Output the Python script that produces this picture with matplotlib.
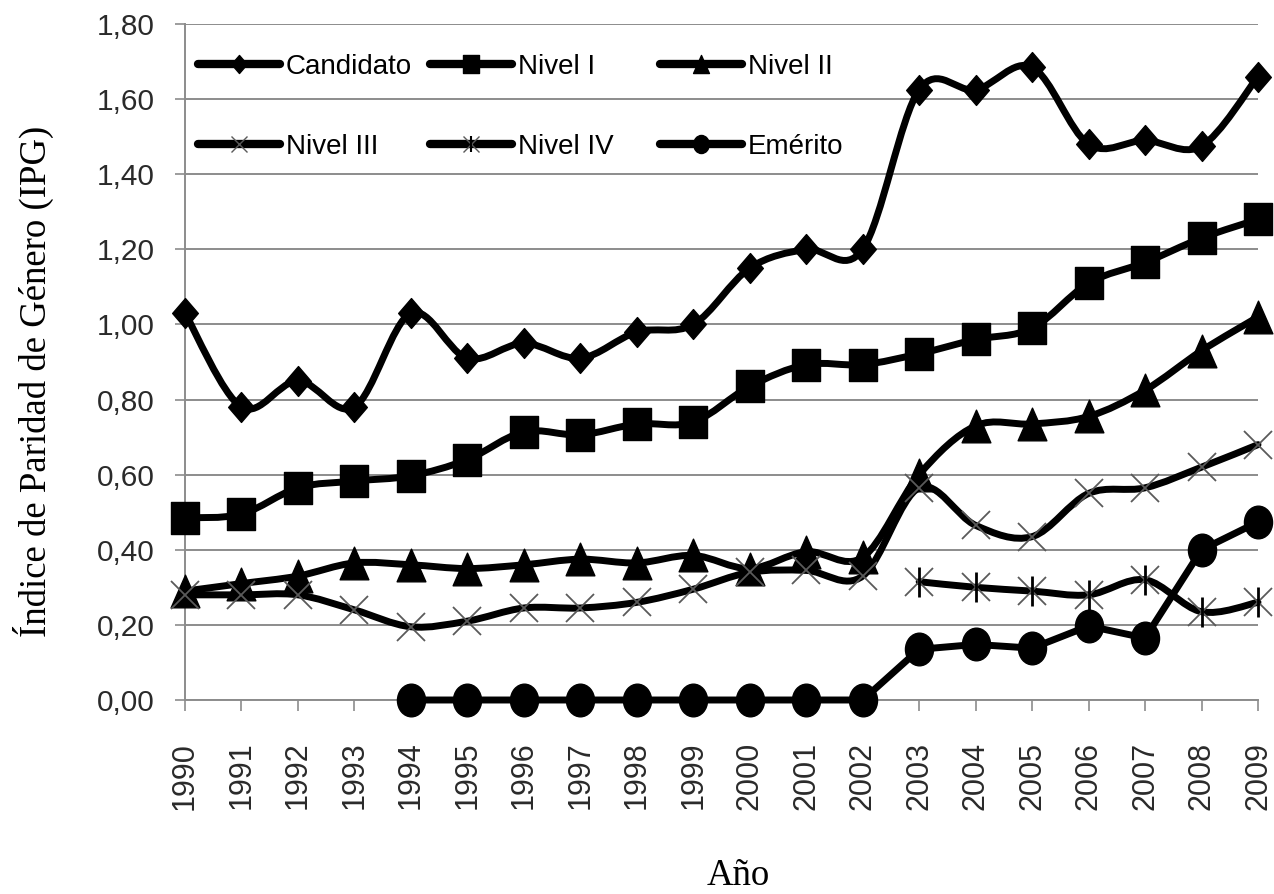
import numpy as np
import matplotlib
matplotlib.use("Agg")
import matplotlib.pyplot as plt
from matplotlib.path import Path
from matplotlib.patches import PathPatch
from matplotlib.lines import Line2D
from matplotlib.legend import Legend
from matplotlib.legend_handler import HandlerTuple

# ---------------- data ----------------
years = list(range(1990, 2010))
candidato = [1.03, 0.78, 0.85, 0.78, 1.03, 0.91, 0.95, 0.91, 0.98, 1.00,
             1.15, 1.20, 1.20, 1.625, 1.625, 1.685, 1.48, 1.49, 1.475, 1.66]
nivel_1 = [0.485, 0.495, 0.565, 0.583, 0.597, 0.64, 0.714, 0.706, 0.735, 0.74,
           0.835, 0.893, 0.893, 0.922, 0.96, 0.99, 1.11, 1.165, 1.23, 1.28]
nivel_2 = [0.29, 0.31, 0.33, 0.365, 0.36, 0.35, 0.36, 0.375, 0.365, 0.385,
           0.35, 0.395, 0.38, 0.60, 0.73, 0.735, 0.755, 0.825, 0.93, 1.02]
nivel_3 = [0.28, 0.28, 0.28, 0.24, 0.195, 0.21, 0.245, 0.245, 0.26, 0.295,
           0.34, 0.345, 0.33, 0.565, 0.465, 0.435, 0.55, 0.565, 0.62, 0.68]
nivel_4 = [None] * 13 + [0.315, 0.30, 0.29, 0.28, 0.32, 0.235, 0.26]
emerito = [None] * 4 + [0.0] * 9 + [0.135, 0.148, 0.138, 0.197, 0.165, 0.40, 0.474]

labels = ["Candidato", "Nivel I", "Nivel II", "Nivel III", "Nivel IV", "Emérito"]
yticks = [0.0, 0.2, 0.4, 0.6, 0.8, 1.0, 1.2, 1.4, 1.6, 1.8]

# ---------------- style ----------------
W, H = 1274, 894
fig = plt.figure(figsize=(W / 100, H / 100), dpi=100)
L, R, T, B = 185, 1258, 24, 700
ax = fig.add_axes([L / W, 1 - B / H, (R - L) / W, (B - T) / H])
ax.set_xlim(1990, 2009)
ax.set_ylim(0, 1.8)

GRID = "#8c8c8c"
for s in ["top", "right"]:
    ax.spines[s].set_visible(False)
for s in ["left", "bottom"]:
    ax.spines[s].set_color(GRID)
    ax.spines[s].set_linewidth(1.4)
ax.yaxis.grid(True, color=GRID, linewidth=1.4)
ax.set_axisbelow(True)

ax.set_yticks(yticks)
ax.set_yticklabels([f"{v:.2f}".replace(".", ",") for v in yticks])
ax.set_xticks(years)
ax.set_xticklabels([str(y) for y in years], rotation=90, va="top", ha="center")
ax.tick_params(axis="y", length=7, width=1.2, color=GRID, pad=15,
               labelsize=21.5, labelcolor="#2a2a2a")
ax.tick_params(axis="x", length=8, width=1.2, color=GRID, pad=22,
               labelsize=22, labelcolor="#2a2a2a")
for t in ax.get_xticklabels() + ax.get_yticklabels():
    t.set_fontfamily("Liberation Sans")

LW = 5.0


def shape(verts):
    verts = list(verts) + [verts[0]]
    codes = [Path.MOVETO] + [Path.LINETO] * (len(verts) - 2) + [Path.CLOSEPOLY]
    return Path(verts, codes)


diamond = shape([(0, 0.5), (0.43, 0), (0, -0.5), (-0.43, 0)])
square = shape([(-0.42, -0.5), (0.42, -0.5), (0.42, 0.5), (-0.42, 0.5)])
triangle = shape([(0, 0.5), (0.44, -0.5), (-0.44, -0.5)])
circ = Path.unit_circle()
ellipse = Path(circ.vertices * np.array([0.43, 0.5]), circ.codes)


def segments(xs, ys):
    segs, cur = [], []
    for x, y in zip(xs, ys):
        if y is None:
            if cur:
                segs.append(cur)
            cur = []
        else:
            cur.append((x, y))
    if cur:
        segs.append(cur)
    return segs


def draw_line(xs, ys, smooth, z):
    for seg in segments(xs, ys):
        P = np.array(seg, dtype=float)
        n = len(P)
        if n < 2:
            continue
        verts = [P[0]]
        codes = [Path.MOVETO]
        for i in range(n - 1):
            if smooth:
                pm = P[i - 1] if i > 0 else P[i]
                pp = P[i + 2] if i + 2 < n else P[i + 1]
                c1 = P[i] + (P[i + 1] - pm) / 6.0
                c2 = P[i + 1] - (pp - P[i]) / 6.0
                verts += [c1, c2, P[i + 1]]
                codes += [Path.CURVE4] * 3
            else:
                verts.append(P[i + 1])
                codes.append(Path.LINETO)
        patch = PathPatch(Path(verts, codes), facecolor="none", edgecolor="black",
                          linewidth=LW, capstyle="round", joinstyle="round",
                          transform=ax.transData, zorder=z, clip_on=False)
        ax.add_patch(patch)


def xy(ys):
    xs = [x for x, y in zip(years, ys) if y is not None]
    vs = [y for y in ys if y is not None]
    return xs, vs


series = [
    (candidato, True, dict(marker=diamond, ms=21.5, mfc="black", mec="black")),
    (nivel_1, True, dict(marker=square, ms=23.5, mfc="black", mec="black")),
    (nivel_2, True, dict(marker=triangle, ms=23.5, mfc="black", mec="black")),
    (nivel_3, True, dict(marker="x", ms=20, mec="#5a5a5a", mew=1.3)),
    (nivel_4, True, dict(marker="x", ms=20, mec="#5a5a5a", mew=1.3)),
    (emerito, False, dict(marker=ellipse, ms=23.5, mfc="black", mec="black")),
]

z = 3
for ys, smooth, mk in series:
    draw_line(years, ys, smooth, z)
    xs, vs = xy(ys)
    ax.plot(xs, vs, linestyle="none", zorder=z + 0.5, clip_on=False, **mk)
    if ys is nivel_4:
        ax.plot(xs, vs, linestyle="none", marker="|", ms=21, mec="black", mew=2,
                zorder=z + 0.6, clip_on=False)
    z += 1

# ---------------- legend ----------------
def handle(**kw):
    return Line2D([], [], color="black", linewidth=6, solid_capstyle="round", **kw)


h_cand = handle(marker=diamond, ms=13, mfc="black", mec="black")
h_n1 = handle(marker=square, ms=13, mfc="black", mec="black")
h_n2 = handle(marker=triangle, ms=13, mfc="black", mec="black")
h_n3 = handle(marker="x", ms=11, mec="#5a5a5a", mew=1.0)
h_n4 = (handle(marker="x", ms=11, mec="#5a5a5a", mew=1.0),
        Line2D([], [], linestyle="none", marker="|", ms=12, mec="black", mew=1.5))
h_em = handle(marker=ellipse, ms=13, mfc="black", mec="black")

cols = [([h_cand, h_n3], [labels[0], labels[3]], 198),
        ([h_n1, h_n4], [labels[1], labels[4]], 430),
        ([h_n2, h_em], [labels[2], labels[5]], 660)]
yc = 1 - 107 / H
for hs, ls, x0 in cols:
    leg = Legend(ax, hs, ls, loc="center left", bbox_to_anchor=(x0 / W, yc),
                 bbox_transform=fig.transFigure, frameon=False,
                 borderpad=0, borderaxespad=0, handlelength=2.95,
                 handletextpad=0.22, labelspacing=1.93,
                 prop={"family": "Liberation Sans", "size": 20},
                 handler_map={tuple: HandlerTuple(ndivide=1)})
    ax.add_artist(leg)

# ---------------- axis titles ----------------
fig.text(33 / W, 1 - 381 / H, "Índice de Paridad de Género (IPG)", rotation=90,
         ha="center", va="center", fontsize=26.5, family="Liberation Serif")
fig.text(738 / W, 1 - 885 / H, "Año", ha="center", va="baseline",
         fontsize=26.5, family="Liberation Serif")

fig.savefig("out.png", dpi=100)
